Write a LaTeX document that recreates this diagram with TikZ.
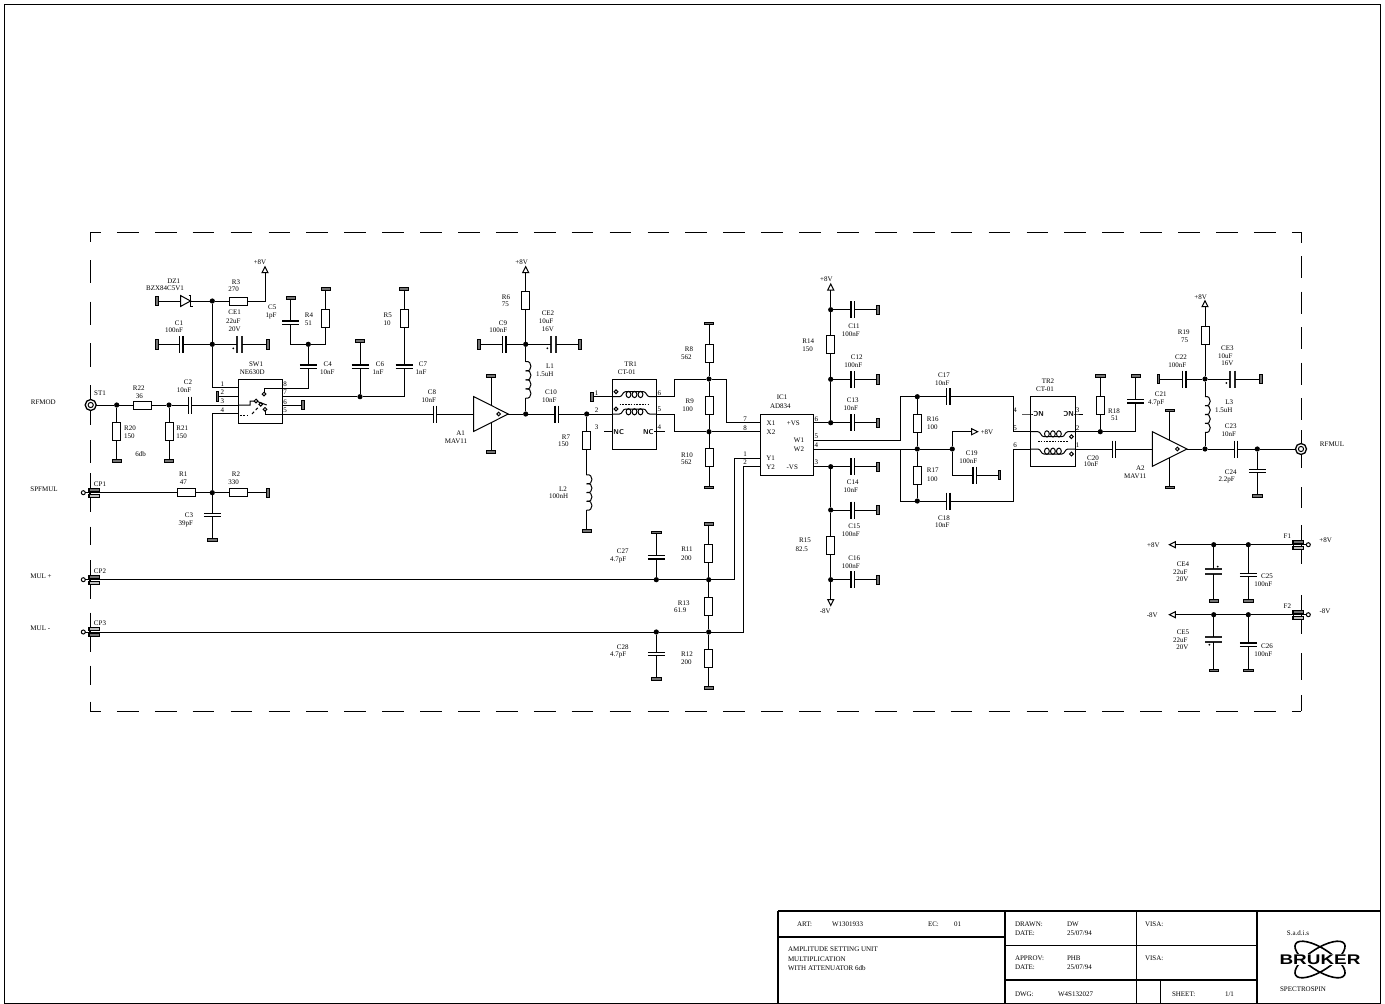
\documentclass[tikz,border=0pt]{standalone}
\usepackage{fontspec}
\setmainfont{Liberation Serif}
\newfontfamily\sansbold[FakeStretch=1.35]{Liberation Sans}
\newcounter{tx}
\tikzset{
 x=1pt,y=-1pt,
 wire/.style={line width=1pt},
 lab/.style={inner sep=0pt,outer sep=0pt,font=\fontsize{7}{8}\selectfont,text height=4.6pt,text depth=0pt},
 labl/.style={lab,anchor=west},
 resh/.style={rectangle,draw,line width=1pt,fill=white,minimum width=18pt,minimum height=8pt,inner sep=0pt,outer sep=0pt},
 resv/.style={rectangle,draw,line width=1pt,fill=white,minimum width=8pt,minimum height=18pt,inner sep=0pt,outer sep=0pt},
 caph/.style={rectangle,minimum width=3.4pt,minimum height=17pt,inner sep=0pt,outer sep=0pt},
 capv/.style={rectangle,minimum width=17pt,minimum height=3.4pt,inner sep=0pt,outer sep=0pt},
 elh/.style={rectangle,minimum width=5pt,minimum height=17pt,inner sep=0pt,outer sep=0pt},
 elv/.style={rectangle,minimum width=17pt,minimum height=5pt,inner sep=0pt,outer sep=0pt},
 plate/.style={line width=1.3pt},
 eplate/.style={line width=2pt,draw=black!85},
 barh/.style={rectangle,draw,line width=.7pt,fill=black!55,minimum width=9.5pt,minimum height=2.6pt,inner sep=0pt,outer sep=0pt},
 barv/.style={rectangle,draw,line width=.7pt,fill=black!55,minimum width=2.6pt,minimum height=9.5pt,inner sep=0pt,outer sep=0pt},
 jdot/.style={circle,fill=black,minimum size=5.2pt,inner sep=0pt,outer sep=0pt},
 opencirc/.style={circle,draw,line width=1pt,fill=white,minimum size=4pt,inner sep=0pt,outer sep=0pt},
 tri/.style={line width=1pt},
 box/.style={line width=1pt},
 dashb/.style={line width=1pt,dash pattern=on 21.7pt off 16.2pt},
 dashc/.style={line width=1pt},
 nc/.style={inner sep=0pt,outer sep=0pt,font=\fontsize{7}{8}\selectfont\sffamily\bfseries},
 tb/.style={line width=1pt},
}
\newcommand\RH[3]{\node[resh] (#1) at (#2,#3) {};}
\newcommand\RV[3]{\node[resv] (#1) at (#2,#3) {};}
\newcommand\CH[3]{\node[caph] (#1) at (#2,#3) {};\draw[plate] (#1.north west)--(#1.south west) (#1.north east)--(#1.south east);}
\newcommand\CV[3]{\node[capv] (#1) at (#2,#3) {};\draw[plate] (#1.north west)--(#1.north east) (#1.south west)--(#1.south east);}
\newcommand\EH[5]{\node[elh] (#1) at (#2,#3) {};\draw[eplate] (#1.north west)--(#1.south west) (#1.north east)--(#1.south east);\fill (#4,#5) circle[radius=1pt];}
\newcommand\EV[5]{\node[elv] (#1) at (#2,#3) {};\draw[eplate] (#1.north west)--(#1.north east) (#1.south west)--(#1.south east);\fill (#4,#5) circle[radius=1pt];}
\newcommand\GH[3]{\node[barh] (#1) at (#2,#3) {};}
\newcommand\GV[3]{\node[barv] (#1) at (#2,#3) {};}
\newcommand\DT[3]{\node[jdot] (#1) at (#2,#3) {};}
\newcommand\PT[3]{\coordinate (#1) at (#2,#3);}
\newcommand\TX[3]{\stepcounter{tx}\node[lab] (t\thetx) at (#1,#2) {#3};}
\newcommand\TL[3]{\stepcounter{tx}\node[labl] (t\thetx) at (#1,#2) {#3};}
\newcommand\W[1]{\draw[wire] #1;}
% arrow: name, x, y (centre of base), rotation
\newcommand\AR[4]{\coordinate (#1) at (#2,#3);\draw[tri,shift={(#1)},rotate=#4] (-3,0)--(0,-6)--(3,0)--cycle;}
% vertical inductor: name x ytop ybottom
\newcommand\LV[4]{\coordinate (#1a) at (#2,#3);\coordinate (#1b) at (#2,#4);
 \pgfmathsetmacro\hh{(#4-#3)/4}
 \foreach \i in {0,1,2,3}{\draw[wire] (#2,{#3+\i*\hh}) .. controls +(7,-2) and +(7,2) .. (#2,{#3+(\i+1)*\hh});}}
% coax connector
\newcommand\CX[3]{\node[circle,draw,line width=1.3pt,fill=white,minimum size=11pt,inner sep=0pt,outer sep=0pt] (#1) at (#2,#3) {};\draw[line width=1pt] (#1) circle[radius=2.6pt];}
% terminal: name, x line, y, left of bars, x of small circle
\newcommand\TM[5]{\node[opencirc] (#1) at (#5,#3) {};
 \draw[wire] (#2,#3-19.5)--(#2,#3+19.5);
 \draw[line width=.8pt,fill=black!55] (#4,#3-4.6) rectangle (#4+11,#3-1.6);
 \draw[line width=.8pt,fill=black!25] (#4,#3+1.6) rectangle (#4+11,#3+4.6);
 \draw[wire] (#4+1,#3-4)--(#4+1,#3+4);}
% amplifier: name, left x, y, top bar y, bottom bar y
\newcommand\AMP[5]{\coordinate (#1i) at (#2,#3);\coordinate (#1o) at (#2+34.6,#3);\coordinate (#1t) at (#2+17.3,#3-8.7);\coordinate (#1b) at (#2+17.3,#3+8.7);
 \draw[box] (#2,#3-17.4)--(#2+34.6,#3)--(#2,#3+17.4)--cycle;
 \draw[wire] (#2+25,#3) circle[radius=1.8pt];
 \GH{#1gt}{#2+17.3}{#4}\GH{#1gb}{#2+17.3}{#5}
 \draw[wire] (#1t)--(#1gt) (#1b)--(#1gb);}
% coil centred at (x,y)
\newcommand\COIL[3]{\begin{scope}[shift={(#1,#2)},rotate=#3]
 \draw[wire] (-22.2,0)--(-15,0) .. controls (-12,0) and (-12,-5) .. (-9,-5)--(9,-5) .. controls (12,-5) and (12,0) .. (15,0)--(22.2,0);
 \foreach \q in {-6,0,6}{\draw[wire] (\q,-2.2) ellipse (2.4pt and 3.1pt);}
 \draw[wire,fill=white] (-18.5,-5) circle[radius=1.9pt];
 \end{scope}}
\begin{document}
\begin{tikzpicture}
\useasboundingbox (0,0) rectangle (1385,1004);
% ---------- frame
\draw[line width=1pt] (4,4) rectangle (1380,1003);
% ---------- dashed boundary
\draw[dashb,dash phase=11] (90,232)--(1301,232);
\draw[dashb,dash phase=11] (90,711)--(1301,711);
\foreach \a/\b in {232/241.7,260/283.3,301.7/325,343.3/366.7,385/425,440/463.3,526.7/545,665.7/685,701.7/711}
 {\draw[dashc] (90,\a)--(90,\b);}
\foreach \a/\b in {232/243,256/278,291.7/314,327/349,362.5/384.5,398/420,430/468,487/508,653/680,695/711}
 {\draw[dashc] (1301,\a)--(1301,\b);}
% ---------- input section
\CX{ST1}{90.7}{405}
\DT{da}{116.7}{405}\RH{R22}{142.7}{405}\DT{db}{169}{405}\CH{C2}{190}{405}
\RV{R20}{116.7}{431.7}\GH{g20}{116.7}{461}\RV{R21}{169}{431.7}\GH{g21}{169}{461}
\draw[box] (238.3,379.3) rectangle (282.3,423.3);
\PT{sw1}{238.3}{387.7}\PT{sw2}{238.3}{396.3}\PT{sw3}{238.3}{405}\PT{sw4}{238.3}{413.7}
\PT{sw8}{282.3}{388}\PT{sw7}{282.3}{396.7}\PT{sw6}{282.3}{405}\PT{sw5}{282.3}{414}
\W{(ST1)--(da)--(R22)--(db)--(C2)--(sw3)}
\W{(da)--(R20)--(g20)}
\W{(db)--(R21)--(g21)}
% DZ1 and R3
\GV{gdz}{156.7}{301}
\node[rectangle,minimum width=10pt,minimum height=11pt,inner sep=0pt,outer sep=0pt] (DZ1) at (185.5,301) {};
\draw[box] (DZ1.north west)--(DZ1.east)--(DZ1.south west)--cycle;
\draw[line width=1.3pt] (188.5,295.5)--(190.7,295.5)--(190.7,306.5)--(192.9,306.5);
\DT{dc}{212.3}{301}\RH{R3}{238.3}{301}\PT{cR3}{265}{301}\AR{ar1}{265}{272.7}{0}
\W{(gdz)--(DZ1)--(dc)--(R3)--(cR3)--(ar1)}
\GV{gc1}{156.7}{344.3}\CH{C1}{181.3}{344.3}\DT{dd}{212.3}{344.3}\EH{CE1}{239.3}{344.3}{233.3}{348.3}\GV{gce1}{268}{344.3}
\PT{cp1}{212.3}{387.7}
\W{(gc1)--(C1)--(dd)--(CE1)--(gce1)}
\W{(dc)--(dd)--(cp1)--(sw1)}
\GV{g2}{217.3}{396.3}\W{(g2)--(sw2)}
% SPFMUL
\node[opencirc] (CP1) at (83.3,492.7) {};
\draw[wire] (90,473.2)--(90,512.2);
\draw[line width=.8pt,fill=black!55] (88.3,488.1) rectangle (99.3,491.1);
\draw[line width=.8pt,fill=black!25] (88.3,494.3) rectangle (99.3,497.3);
\draw[wire] (89.3,488.7)--(89.3,496.7);
\RH{R1}{186.3}{492.7}\DT{de}{212.3}{492.7}\RH{R2}{238.3}{492.7}\GV{gr2}{268}{492.7}
\CV{C3}{212.3}{515}\GH{gc3}{212.3}{539.7}\PT{cp4}{212.3}{413.7}
\W{(CP1)--(R1)--(de)--(R2)--(gr2)}
\W{(de)--(C3)--(gc3)}
\W{(de)--(cp4)--(sw4)}
% switch internals
\node[opencirc,minimum size=3.6pt] (swa) at (264,394) {};
\node[opencirc,minimum size=3.6pt] (swb) at (256,401) {};
\node[opencirc,minimum size=3.6pt] (swc) at (260.7,404.3) {};
\node[opencirc,minimum size=3.6pt] (swd) at (265,409.3) {};
\PT{swe}{264}{388}\PT{swf}{265}{414}\PT{swg}{250}{405}\PT{swh}{250}{401}\PT{swk}{266.7}{405}
\W{(sw3)--(swg)--(swh)--(swb)--(swk)}
\W{(swa)--(swe)--(sw8)}
\W{(swd)--(swf)--(sw5)}
\draw[line width=1pt,dash pattern=on 1.6pt off 1.8pt] (240,415)--(250,415);
\draw[line width=1pt,dash pattern=on 3pt off 2.4pt] (252,414)--(259,406.5);
% R4/C5/C4
\CV{C4}{308.3}{366.7}\DT{df}{308.3}{344.3}\PT{cq8}{308.3}{388}
\PT{cc5}{290.7}{344.3}\CV{C5}{290.7}{322.7}\GH{gc5}{290.7}{297.7}
\PT{cr4}{325.7}{344.3}\RV{R4}{325.7}{318.3}\GH{gr4}{325.7}{288.7}
\W{(sw8)--(cq8)--(C4)--(df)}
\W{(gc5)--(C5)--(cc5)--(df)--(cr4)--(R4)--(gr4)}
\DT{dg}{360}{396.7}\CV{C6}{360}{366.7}\GH{gc6}{360}{341}
\PT{cq7}{404}{396.7}\CV{C7}{404}{366.7}\RV{R5}{404}{318.3}\GH{gr5}{404}{288.7}
\W{(sw7)--(dg)--(cq7)--(C7)--(R5)--(gr5)}
\W{(dg)--(C6)--(gc6)}
\GV{g6}{302.7}{405}\W{(sw6)--(g6)}
% A1
\CH{C8}{435}{414}\AMP{A1}{473.7}{414}{376}{452}
\DT{dh}{525.7}{414}\CH{C10}{556.7}{414}\DT{dk}{586.7}{414}
\W{(sw5)--(C8)--(A1i)}
\W{(A1o)--(dh)--(C10)--(dk)}
\LV{L1}{525.7}{361.7}{398}
\DT{dm}{525.7}{344.3}\RV{R6}{525.7}{300.7}\AR{ar2}{525.7}{272.7}{0}
\CH{C9}{504.3}{344.3}\GV{gc9}{478.7}{344.3}\EH{CE2}{553}{344.3}{547.3}{348.3}\GV{gce2}{580}{344.3}
\W{(dh)--(L1b)}\W{(L1a)--(dm)--(R6)--(ar2)}
\W{(gc9)--(C9)--(dm)--(CE2)--(gce2)}
% TR1
\RV{R7}{586.7}{440.3}\LV{L2}{586.7}{475}{510}\GH{gl2}{586.7}{531}
\W{(dk)--(R7)--(L2a)}\W{(L2b)--(gl2)}
\draw[box] (612.3,379) rectangle (656.7,449);
\COIL{634.5}{396.7}{0}\COIL{634.5}{414}{0}
\draw[line width=1pt,dash pattern=on 1.6pt off 1.2pt] (619.5,404)--(649.5,404);
\GV{gt1}{591.7}{396.7}
\PT{t1a}{612.3}{396.7}\PT{t1b}{612.3}{414}\PT{t1c}{612.3}{431.7}\PT{t1d}{656.7}{396.7}\PT{t1e}{656.7}{414}\PT{t1f}{656.7}{431.7}
\PT{t1g}{604}{431.7}\PT{t1h}{665}{431.7}
\W{(gt1)--(t1a)}\W{(dk)--(t1b)}\W{(t1g)--(t1c)}\W{(t1f)--(t1h)}
\node[nc] (nc1) at (618.7,431.7) {NC};\node[nc] (nc2) at (648.3,431.7) {NC};
\W{(t1c)--(nc1)}\W{(t1f)--(nc2)}
% R8 R9 R10
\PT{q1}{674}{414}\PT{q2}{674}{431.7}\PT{q3}{674}{396.7}\PT{q4}{674}{379}
\DT{dn}{709}{379}\DT{dp}{709}{431.7}
\PT{q5}{726}{379}\PT{q6}{726}{422.7}
\PT{ic7}{760.7}{422.7}\PT{ic8}{760.7}{431.7}\PT{ic1}{760.7}{458}\PT{ic2}{760.7}{466.7}
\PT{ic6}{813.3}{422.7}\PT{ic5}{813.3}{440}\PT{ic4}{813.3}{449}\PT{ic3}{813.3}{466.7}
\RV{R8}{709}{353.3}\GH{gr8}{709}{323.3}\RV{R9}{709}{405.3}\RV{R10}{709}{457.7}\GH{gr10}{709}{487.3}
\W{(t1d)--(q3)--(q4)--(dn)--(q5)--(q6)--(ic7)}
\W{(t1e)--(q1)--(q2)--(dp)--(ic8)}
\W{(gr8)--(R8)--(dn)--(R9)--(dp)--(R10)--(gr10)}
% IC1
\draw[box] (760.7,414) rectangle (813.3,475);
\PT{y1c}{734.7}{458}\PT{y2c}{743.3}{466.7}
\PT{y1d}{734.7}{579.7}\PT{y2d}{743.3}{632}
\DT{dr}{708.7}{579.7}\DT{ds}{708.7}{632}\DT{dt}{656.3}{579.7}\DT{du}{656.3}{632}
\W{(ic1)--(y1c)--(y1d)--(dr)--(dt)}
\W{(ic2)--(y2c)--(y2d)--(ds)--(du)}
\node[opencirc] (CP2) at (83.3,579.7) {};
\draw[wire] (90,560.2)--(90,599.2);
\draw[line width=.8pt,fill=black!55] (88.3,575.1) rectangle (99.3,578.1);
\draw[line width=.8pt,fill=black!25] (88.3,581.3) rectangle (99.3,584.3);
\draw[wire] (89.3,575.7)--(89.3,583.7);
\node[opencirc] (CP3) at (83.3,632) {};
\draw[wire] (90,612.5)--(90,651.5);
\draw[line width=.8pt,fill=black!25] (88.3,627.4) rectangle (99.3,630.4);
\draw[line width=.8pt,fill=black!55] (88.3,633.6) rectangle (99.3,636.6);
\draw[wire] (89.3,628)--(89.3,636);
\W{(CP2)--(dt)}\W{(CP3)--(du)}
\RV{R11}{708.7}{553.3}\GH{gr11}{708.7}{524}\RV{R13}{708.7}{606}\RV{R12}{708.7}{658}\GH{gr12}{708.7}{687.7}
\W{(gr11)--(R11)--(dr)--(R13)--(ds)--(R12)--(gr12)}
\CV{C27}{656.3}{557.3}\GH{gc27}{656.3}{532.3}\CV{C28}{656.3}{654}\GH{gc28}{656.3}{679}
\W{(gc27)--(C27)--(dt)}\W{(du)--(C28)--(gc28)}
% supply column
\AR{ar3}{830.7}{290}{0}\DT{v1}{830.7}{309.7}\RV{R14}{830.7}{344.3}\DT{v2}{830.7}{379.3}\DT{v3}{830.7}{422.7}
\DT{v4}{830.7}{466.7}\DT{v5}{830.7}{510}\RV{R15}{830.7}{545}\DT{v6}{830.7}{579.7}\AR{ar4}{830.7}{599.5}{180}
\W{(ar3)--(v1)--(R14)--(v2)--(v3)}
\W{(v4)--(v5)--(R15)--(v6)--(ar4)}
\W{(ic6)--(v3)}\W{(ic3)--(v4)}
\CH{C11}{852.7}{309.7}\GV{g11}{877.7}{309.7}\W{(v1)--(C11)--(g11)}
\CH{C12}{852.7}{379.3}\GV{g12}{877.7}{379.3}\W{(v2)--(C12)--(g12)}
\CH{C13}{852.7}{422.7}\GV{g13}{877.7}{422.7}\W{(v3)--(C13)--(g13)}
\CH{C14}{852.7}{466.7}\GV{g14}{877.7}{466.7}\W{(v4)--(C14)--(g14)}
\CH{C15}{852.7}{510}\GV{g15}{877.7}{510}\W{(v5)--(C15)--(g15)}
\CH{C16}{852.7}{579.7}\GV{g16}{877.7}{579.7}\W{(v6)--(C16)--(g16)}
% output network
\PT{w1}{900.3}{440}\PT{w2}{900.3}{396.7}\PT{w3}{900.3}{449}\PT{w4}{900.3}{501}
\DT{m1}{917.3}{396.7}\DT{m2}{917.3}{449}\DT{m3}{917.3}{501}\DT{m4}{952.3}{449}
\CH{C17}{948.3}{396.7}\CH{C18}{948.3}{501}
\PT{x1}{1013.3}{396.7}\PT{x2}{1013.3}{431.7}\PT{x3}{1013.3}{501}\PT{x4}{1013.3}{449}
\PT{t2a}{1030.7}{431.7}\PT{t2b}{1030.7}{449}\PT{t2c}{1030.7}{414}\PT{t2d}{1075}{431.7}\PT{t2e}{1075}{449}\PT{t2f}{1075}{414}
\PT{t2g}{1022.3}{414}\PT{t2h}{1083.3}{414}
\RV{R16}{917.3}{423}\RV{R17}{917.3}{475.3}
\W{(ic5)--(w1)--(w2)--(m1)--(C17)--(x1)--(x2)--(t2a)}
\W{(ic4)--(m2)--(m4)}
\W{(w3)--(w4)--(m3)--(C18)--(x3)--(x4)--(t2b)}
\W{(m1)--(R16)--(m2)--(R17)--(m3)}
\PT{n1}{952.3}{431.7}\PT{n2}{952.3}{475}\AR{ar5}{971.7}{431.7}{-90}
\CH{C19}{974.7}{475}\GV{gc19}{999.3}{475}
\W{(ar5)--(n1)--(m4)--(n2)--(C19)--(gc19)}
% TR2
\draw[box] (1030.7,396.7) rectangle (1075,466.7);
\COIL{1052.9}{431.7}{180}\COIL{1052.9}{449}{180}
\draw[line width=1pt,dash pattern=on 1.6pt off 1.2pt] (1038,441.7)--(1068,441.7);
\node[nc,rotate=180] (nc3) at (1038.7,414) {NC};\node[nc,rotate=180] (nc4) at (1068.7,414) {NC};
\W{(t2g)--(t2c)--(nc3)}\W{(nc4)--(t2f)--(t2h)}
\DT{h1}{1100.3}{431.7}\RV{R18}{1100.3}{405.7}\GH{gr18}{1100.3}{375.7}
\PT{h2}{1135.7}{431.7}\CV{C21}{1135.7}{401.3}\GH{gc21}{1135.7}{375.7}
\W{(t2d)--(h1)--(h2)--(C21)--(gc21)}\W{(h1)--(R18)--(gr18)}
\CH{C20}{1114}{449}\AMP{A2}{1152.3}{449}{410.3}{487.3}
\W{(t2e)--(C20)--(A2i)}
\DT{k1}{1205}{449}\LV{L3}{1205}{396.7}{432.3}\DT{k2}{1205}{379}\RV{R19}{1205}{335.7}\AR{ar6}{1205}{306.7}{0}
\CH{C22}{1184.3}{379}\GV{gc22}{1158.3}{379}\EH{CE3}{1232}{379}{1226.3}{383}\GV{gce3}{1260.7}{379}
\W{(k1)--(L3b)}\W{(L3a)--(k2)--(R19)--(ar6)}
\W{(gc22)--(C22)--(k2)--(CE3)--(gce3)}
\CH{C23}{1236}{449}\DT{k3}{1257.3}{449}\CV{C24}{1257.3}{471}\GH{gc24}{1257.3}{496}\CX{ST2}{1301}{449}
\W{(A2o)--(k1)--(C23)--(k3)--(ST2)}\W{(k3)--(C24)--(gc24)}
% supply filters
\AR{ar7}{1175.3}{544.7}{90}\DT{p1}{1213.7}{544.7}\DT{p2}{1248.3}{544.7}
\TM{F1}{1301}{544.7}{1292.3}{1308.3}
\W{(ar7)--(p1)--(p2)--(F1)}
\EV{CE4}{1213.7}{571.7}{1217.7}{566.7}\GH{gce4}{1213.7}{600.7}\CV{C25}{1248.3}{575}\GH{gc25}{1248.3}{600.7}
\W{(p1)--(CE4)--(gce4)}\W{(p2)--(C25)--(gc25)}
\AR{ar8}{1175.3}{614.7}{90}\DT{p3}{1213.7}{614.7}\DT{p4}{1248.3}{614.7}
\TM{F2}{1301}{614.7}{1292.3}{1308.3}
\W{(ar8)--(p3)--(p4)--(F2)}
\EV{CE5}{1213.7}{639.7}{1209.3}{644.7}\GH{gce5}{1213.7}{670.3}\CV{C26}{1248.3}{644.7}\GH{gc26}{1248.3}{670.3}
\W{(p3)--(CE5)--(gce5)}\W{(p4)--(C26)--(gc26)}
% ---------- labels
\TX{43.3}{401.7}{RFMOD}\TX{100}{392.7}{ST1}\TX{138.7}{387.7}{R22}\TX{139.3}{395.7}{36}
\TX{130}{427.7}{R20}\TX{129.3}{435.7}{150}\TX{182.3}{427.7}{R21}\TX{181.7}{435.7}{150}\TX{140.7}{453.7}{6db}
\TX{188}{382.3}{C2}\TX{184}{390.3}{10nF}
\TX{173.7}{280.7}{DZ1}\TX{165}{287.7}{BZX84C5V1}\TX{236}{281.7}{R3}\TX{233.7}{289.3}{270}\TX{260}{261.7}{+8V}
\TX{179}{322.7}{C1}\TX{174}{330}{100nF}\TX{234.7}{312.3}{CE1}\TX{233.3}{320.7}{22uF}\TX{234.7}{328.7}{20V}
\TX{272.3}{306.7}{C5}\TX{271}{315}{1pF}\TX{309}{315}{R4}\TX{308.3}{323}{51}
\TX{327.7}{363.7}{C4}\TX{327.3}{371.7}{10nF}\TX{380}{363.7}{C6}\TX{378}{371.7}{1nF}\TX{423}{363.7}{C7}\TX{421}{371.7}{1nF}
\TX{387.7}{315.3}{R5}\TX{387}{323}{10}
\TX{256}{364.3}{SW1}\TX{252.3}{372.3}{NE630D}
\TX{222.3}{383.7}{1}\TX{222.3}{392.3}{2}\TX{222.3}{401}{3}\TX{222.3}{409.7}{4}
\TX{285}{383.7}{8}\TX{285}{392.3}{7}\TX{285}{401.7}{6}\TX{285}{409.7}{5}
\TX{44}{488.7}{SPFMUL}\TX{100}{483.7}{CP1}\TX{41}{575.7}{MUL +}\TX{100}{570.7}{CP2}\TX{40.3}{627.7}{MUL -}\TX{100}{622.7}{CP3}
\TX{183.3}{474.3}{R1}\TX{183.3}{482.3}{47}\TX{236}{474.3}{R2}\TX{233.7}{482.3}{330}\TX{189}{515.3}{C3}\TX{185.7}{523.3}{39pF}
\TX{432}{391.7}{C8}\TX{428.7}{399.7}{10nF}\TX{460.7}{432.7}{A1}\TX{456}{440.7}{MAV11}
\TX{521.7}{261.7}{+8V}\TX{506}{296.7}{R6}\TX{505.3}{304.3}{75}\TX{503}{322.7}{C9}\TX{498.3}{330}{100nF}
\TX{548}{312.7}{CE2}\TX{546}{320.7}{10uF}\TX{548}{328.7}{16V}\TX{550}{366.3}{L1}\TX{544.7}{374.3}{1.5uH}
\TX{551}{391.7}{C10}\TX{549.3}{399.7}{10nF}\TX{566}{436.7}{R7}\TX{563.3}{444}{150}\TX{563}{488.7}{L2}\TX{558.7}{496.3}{100nH}
\TX{630.7}{363.7}{TR1}\TX{626.7}{371.7}{CT-01}
\TX{596.7}{392.7}{1}\TX{596.7}{410}{2}\TX{596.7}{427.3}{3}\TX{659.3}{392.7}{6}\TX{659.3}{409.3}{5}\TX{659.3}{427.3}{4}
\TX{689}{349.3}{R8}\TX{686.3}{357.3}{562}\TX{689.7}{400.7}{R9}\TX{687.7}{408.7}{100}\TX{687}{454.7}{R10}\TX{686.3}{462.3}{562}
\TX{782}{397.3}{IC1}\TX{780.3}{405.7}{AD834}
\TX{771}{422.7}{X1}\TX{771}{431.7}{X2}\TX{770.7}{457.7}{Y1}\TX{770.7}{466.7}{Y2}
\TX{793.3}{422.7}{+VS}\TX{799}{440.3}{W1}\TX{799}{449.3}{W2}\TX{792.3}{466.7}{-VS}
\TX{745}{418.7}{7}\TX{745}{427.7}{8}\TX{745}{453.7}{1}\TX{745}{462.3}{2}
\TX{816.3}{419}{6}\TX{816.3}{436.3}{5}\TX{816.3}{444.7}{4}\TX{816.3}{462.3}{3}
\TX{622.7}{550.7}{C27}\TX{618.3}{558.7}{4.7pF}\TX{687}{549.3}{R11}\TX{686.3}{557.7}{200}\TX{683.7}{602.7}{R13}\TX{680.3}{610.3}{61.9}
\TX{622.7}{646.7}{C28}\TX{618.3}{654}{4.7pF}\TX{687}{653.7}{R12}\TX{686.3}{661.7}{200}
\TX{805}{540.3}{R15}\TX{801.7}{548.7}{82.5}\TX{825.3}{610.7}{-8V}\TX{826.3}{278.7}{+8V}
\TX{854}{325.7}{C11}\TX{850.7}{333.7}{100nF}\TX{808.3}{340.7}{R14}\TX{807.7}{348.7}{150}\TX{856.7}{356.7}{C12}\TX{853.3}{364.7}{100nF}
\TX{852.7}{400.3}{C13}\TX{850.7}{408.3}{10nF}\TX{852.7}{482.3}{C14}\TX{850.7}{490.3}{10nF}\TX{854.3}{525.7}{C15}\TX{850.7}{533.7}{100nF}
\TX{854.3}{557.7}{C16}\TX{850.7}{565.7}{100nF}
\TX{944}{374.7}{C17}\TX{942.3}{382.7}{10nF}\TX{932.7}{418.7}{R16}\TX{932.3}{426.7}{100}\TX{932.7}{470.3}{R17}\TX{932.3}{478.7}{100}
\TX{971.7}{452.7}{C19}\TX{968.3}{460.7}{100nF}\TX{944}{517.7}{C18}\TX{942.3}{524.7}{10nF}\TX{987}{431.7}{+8V}
\TX{1048}{380.7}{TR2}\TX{1045}{388.7}{CT-01}
\TX{1015}{410}{4}\TX{1015}{427.7}{5}\TX{1015}{445}{6}\TX{1077.7}{410}{3}\TX{1077.7}{427.7}{2}\TX{1077.7}{445}{1}
\TX{1114}{410.7}{R18}\TX{1114.7}{417.7}{51}\TX{1160.7}{393.7}{C21}\TX{1156.3}{401.7}{4.7pF}\TX{1093}{457.7}{C20}\TX{1091}{464.3}{10nF}
\TX{1140.3}{467.7}{A2}\TX{1135.3}{475.7}{MAV11}\TX{1183.7}{331.7}{R19}\TX{1184.7}{339.7}{75}\TX{1200.7}{296.7}{+8V}
\TX{1181}{356.7}{C22}\TX{1177.3}{364.7}{100nF}\TX{1227.3}{347.7}{CE3}\TX{1225.3}{355.7}{10uF}\TX{1227.3}{362.7}{16V}
\TX{1229.3}{401.7}{L3}\TX{1223.7}{409.7}{1.5uH}\TX{1230.7}{426.3}{C23}\TX{1228.7}{434.3}{10nF}\TX{1230.7}{471.7}{C24}\TX{1226.7}{479.3}{2.2pF}
\TX{1332}{444}{RFMUL}
\TX{1153.3}{544.7}{+8V}\TX{1287.3}{535.7}{F1}\TX{1325.7}{540.3}{+8V}\TX{1183}{564.3}{CE4}\TX{1180.3}{571.7}{22uF}\TX{1182.3}{579.3}{20V}
\TX{1267}{575.7}{C25}\TX{1263.3}{584}{100nF}\TX{1152.3}{614.7}{-8V}\TX{1287.3}{605.7}{F2}\TX{1325}{610.7}{-8V}
\TX{1183}{632.3}{CE5}\TX{1180.3}{639.7}{22uF}\TX{1182.3}{647.3}{20V}\TX{1267}{645.7}{C26}\TX{1263.3}{653.7}{100nF}
% ---------- title block
\draw[line width=2pt] (778,911)--(1381,911);
\draw[line width=1.6pt] (778,911)--(778,1004);
\draw[line width=1.6pt] (1005,911)--(1005,1004);
\draw[line width=2.6pt] (1257,911)--(1257,1004);
\draw[line width=1.6pt] (778,937)--(1005,937);
\draw[tb] (1005,945.3)--(1257,945.3);
\draw[line width=2.6pt] (1005,980)--(1257,980);
\draw[tb] (1136,911)--(1136,1004);
\draw[tb] (1160,980)--(1160,1004);
\TL{797}{924}{ART:}\TL{832}{924}{W1301933}\TL{928}{924}{EC:}\TL{954}{924}{01}
\TL{788}{949.3}{AMPLITUDE SETTING UNIT}\TL{788}{958.7}{MULTIPLICATION}\TL{788}{967.7}{WITH ATTENUATOR 6db}
\TL{1015}{923.7}{DRAWN:}\TL{1067}{923.7}{DW}\TL{1015}{932.7}{DATE:}\TL{1067}{932.7}{25/07/94}\TL{1145}{924}{VISA:}
\TL{1015}{958.3}{APPROV:}\TL{1067}{958.3}{PHB}\TL{1015}{967.3}{DATE:}\TL{1067}{967.3}{25/07/94}\TL{1145}{958.3}{VISA:}
\TL{1015}{994}{DWG:}\TL{1058}{994}{W4S132027}\TL{1172}{994}{SHEET:}\TL{1225}{994}{1/1}
\TX{1298}{933}{S.a.d.i.s}\TX{1303}{989}{SPECTROSPIN}
\coordinate (lc) at (1320,959.5);
\draw[line width=1.6pt,rotate around={33:(lc)}] (lc) ellipse (29pt and 11pt);
\draw[line width=1.6pt,rotate around={-33:(lc)}] (lc) ellipse (29pt and 11pt);
\node[inner sep=1pt,fill=white,font=\fontsize{14}{14}\sansbold\bfseries] (logo) at (lc) {BRUKER};
\end{tikzpicture}
\end{document}
